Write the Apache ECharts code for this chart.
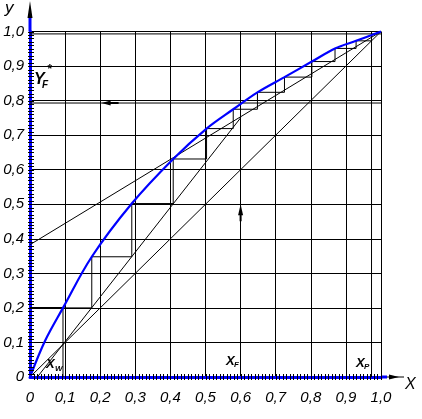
<!DOCTYPE html>
<html><head><meta charset="utf-8">
<script src="https://cdn.jsdelivr.net/npm/echarts@6/dist/echarts.min.js"></script>
<style>html,body{margin:0;padding:0;background:#fff}#c{width:422px;height:419px}</style>
</head><body><div id="c"></div>
<script>
// Equilibrium curve (blue)
const eqX = [0, 0.043, 0.094, 0.176, 0.29, 0.408, 0.503, 0.579, 0.648, 0.725, 0.803, 0.869, 0.929, 1];
const eqY = [0, 0.105, 0.2, 0.348, 0.502, 0.631, 0.719, 0.775, 0.824, 0.868, 0.913, 0.951, 0.973, 1];
// Staircase corners: x on the curve, y on the operating lines
const stepX = [0.973, 0.929, 0.869, 0.803, 0.725, 0.648, 0.579, 0.503, 0.408, 0.29, 0.176, 0.094];
const stepY = [0.973, 0.951, 0.913, 0.868, 0.824, 0.775, 0.719, 0.631, 0.502, 0.348, 0.2, 0];
// Key compositions
const xW = 0.094, xF = 0.6, xP = 0.973, yFstar = 0.793, yTop = 0.993;
// Operating lines
const rectX = [0, 1], rectY = [0.383, 1];
const stripX = [0.021, 0.6], stripY = [0, 0.75];
const diagX = [0, 1], diagY = [0, 1];
// minor tick step
const minorStep = 0.01;

const zip = (a, b) => a.map((v, i) => [v, b[i]]);
const stairs = [[stepX[0], stepY[0]]];
for (let i = 1; i < stepX.length; i++) {
  stairs.push([stepX[i], stepY[i - 1]]);
  stairs.push([stepX[i], stepY[i]]);
}
const fmt = v => (Math.abs(v) < 1e-9 ? '0' : v.toFixed(1).replace('.', ','));
const FONT = 'Liberation Sans';
const lineS = (data, w, color, extra) => Object.assign({
  type: 'line', data, symbol: 'none', silent: true, clip: false,
  lineStyle: { width: w, color: color || '#000' }
}, extra || {});

const chart = echarts.init(document.getElementById('c'), null, { renderer: 'canvas' });
const axisCommon = {
  type: 'value', min: 0, max: 1, interval: 0.1,
  axisLine: { show: true, lineStyle: { color: '#0000ff', width: 3 } },
  axisTick: { show: false },
  minorTick: { show: false },
  splitLine: { show: true, lineStyle: { color: '#000', width: 1 } },
  axisLabel: { formatter: fmt, fontFamily: FONT, fontStyle: 'italic', fontSize: 15, color: '#000' }
};
chart.setOption({
  animation: false,
  grid: { left: 30, right: 41, top: 31.5, bottom: 42, containLabel: false },
  xAxis: Object.assign({}, axisCommon, { axisLabel: Object.assign({}, axisCommon.axisLabel, { margin: 13 }) }),
  yAxis: Object.assign({}, axisCommon, { axisLabel: Object.assign({}, axisCommon.axisLabel, { margin: 6 }) }),
  series: [
    lineS([[0, yFstar], [1, yFstar]], 1),
    lineS([[0, yTop], [1, yTop]], 1),
    lineS([[xP, 0], [xP, 1]], 1),
    lineS(zip(diagX, diagY), 1),
    lineS(zip(rectX, rectY), 1),
    lineS(zip(stripX, stripY), 1),
    lineS(stairs, 1),
    lineS([[0, stepY[stepY.length - 2]], [xW, stepY[stepY.length - 2]]], 2),
    lineS(zip(eqX, eqY), 2.2, '#0000ff', { smooth: 0.35, z: 5 })
  ]
});

const px = (x, y) => chart.convertToPixel({ gridIndex: 0 }, [x, y]);
const pO = px(0, 0), pTop = px(0, 1), pRight = px(1, 0);
const arrowL = px(0.204, yFstar), arrowU = px(xF, 0.5);
const txt = (x, y, s, size, bold) => ({
  type: 'text', x, y, style: { text: s, fontFamily: FONT, fontStyle: 'italic', fontWeight: bold ? 'bold' : 'normal', fontSize: size, fill: '#000' }
});
const ticks = [];
for (let i = 1; i <= 100; i++) {
  const v = i * minorStep;
  const tx = Math.round(px(v, 0)[0]) + 0.5;
  const ty = Math.round(px(0, v)[1]) + 0.5;
  ticks.push({ type: 'line', z: 100, shape: { x1: tx, y1: pO[1] - 3, x2: tx, y2: pO[1] + 3 }, style: { stroke: '#000', lineWidth: 1 } });
  ticks.push({ type: 'line', z: 100, shape: { x1: pO[0] - 2, y1: ty, x2: pO[0] + 4, y2: ty }, style: { stroke: '#000', lineWidth: 1 } });
}
chart.setOption({
  graphic: [
    { type: 'line', shape: { x1: pO[0], y1: pTop[1], x2: pO[0], y2: 17 }, style: { stroke: '#0000ff', lineWidth: 3 } },
    { type: 'polygon', shape: { points: [[pO[0], 1], [pO[0] - 2.5, 18], [pO[0] + 2.5, 18]] }, style: { fill: '#000' } },
    { type: 'line', shape: { x1: pRight[0], y1: pO[1], x2: 387, y2: pO[1] }, style: { stroke: '#0000ff', lineWidth: 3 } },
    { type: 'line', shape: { x1: 387, y1: pO[1], x2: 404, y2: pO[1] }, style: { stroke: '#000', lineWidth: 1 } },
    { type: 'polygon', shape: { points: [[399, pO[1]], [389, pO[1] - 2.5], [389, pO[1] + 2.5]] }, style: { fill: '#000' } },
    { type: 'polygon', shape: { points: [[arrowL[0], arrowL[1]], [arrowL[0] + 9, arrowL[1] - 2.5], [arrowL[0] + 9, arrowL[1] + 2.5]] }, style: { fill: '#000' } },
    { type: 'line', shape: { x1: arrowL[0] + 8, y1: arrowL[1], x2: arrowL[0] + 17, y2: arrowL[1] }, style: { stroke: '#000', lineWidth: 2 } },
    { type: 'polygon', shape: { points: [[arrowU[0], arrowU[1]], [arrowU[0] - 2.5, arrowU[1] + 11], [arrowU[0] + 2.5, arrowU[1] + 11]] }, style: { fill: '#000' } },
    { type: 'line', shape: { x1: arrowU[0], y1: arrowU[1] + 10, x2: arrowU[0], y2: arrowU[1] + 17 }, style: { stroke: '#000', lineWidth: 2 } },
    txt(5, 0, 'y', 17, false),
    txt(405, 377, 'X', 16, false),
    txt(34, 72, 'Y', 16, true), txt(42, 80, 'F', 10, true), txt(47, 64, '*', 12, true),
    txt(46, 358, 'X', 13, true), txt(55, 365, 'W', 8, true),
    txt(226, 355, 'X', 13, true), txt(234, 361, 'F', 8, true),
    txt(356, 357, 'X', 13, true), txt(364, 363, 'P', 8, true)
  ].concat(ticks)
});
</script></body></html>
